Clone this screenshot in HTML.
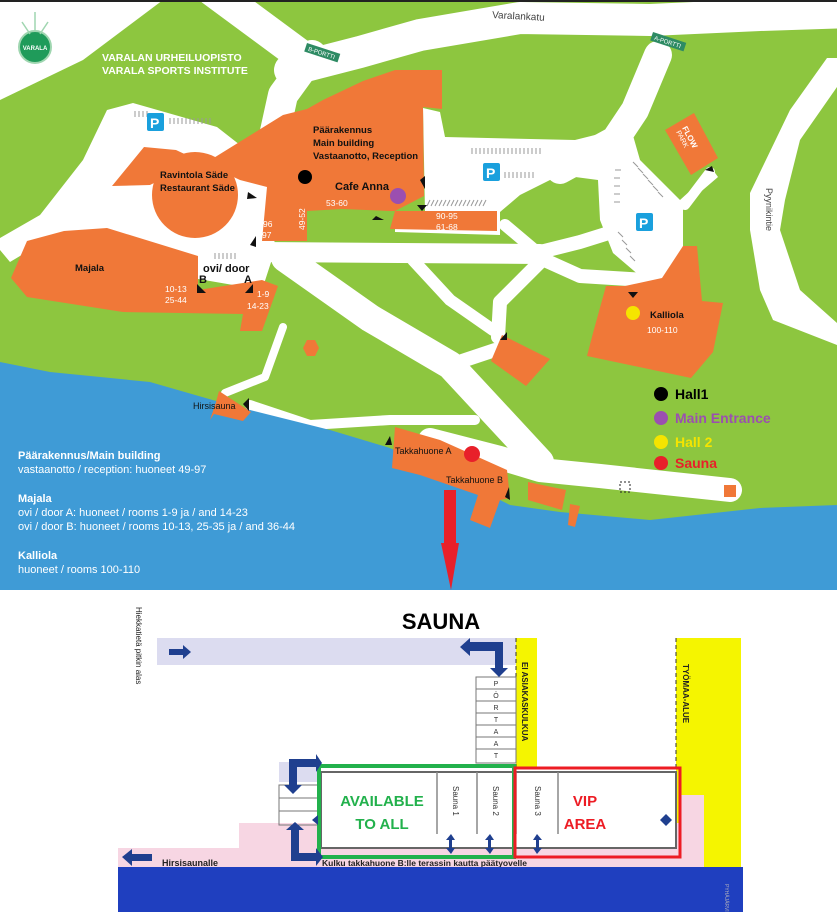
<!DOCTYPE html>
<html><head><meta charset="utf-8"><style>
html,body{margin:0;padding:0;background:#fff}
svg{display:block}
text{font-family:"Liberation Sans",sans-serif}
</style></head><body>
<svg width="837" height="919" viewBox="0 0 837 919" xmlns="http://www.w3.org/2000/svg">
<rect x="0" y="0" width="837" height="590" fill="#8dc63f"/>
<!-- white areas -->
<g fill="#fff">
<polygon points="0,0 163,0 83,60 0,100"/>
<polygon points="107,110 133,103 217,127 240,145 268,140 275,250 262,290 30,250 10,262 0,250 0,238 40,215 83,160"/>
<polygon points="827,58 837,58 837,87 800,140 785,200 780,230 800,290 837,323 837,345 773,320 760,290 750,230 750,193 790,110"/>
<polygon points="423,108 440,112 445,137 575,140 615,130 630,125 640,160 680,200 713,170 718,177 683,207 683,247 685,280 647,282 613,253 600,220 598,180 560,175 520,195 500,212 425,212"/>
<polygon points="395,211 500,211 500,235 395,232"/>
</g>
<g fill="none" stroke="#fff" stroke-linecap="round" stroke-linejoin="round">
<polyline points="212,-10 300,55" stroke-width="32"/>
<polyline points="290,70 360,52 420,35 520,18 650,20 760,15 850,12" stroke-width="32"/>
<polyline points="312,55 283,95 272,145" stroke-width="30"/>
<polyline points="658,55 635,110 615,140 560,170" stroke-width="28"/>
<polyline points="262,252 540,254" stroke-width="20"/>
<polyline points="540,252 580,242 612,232" stroke-width="14"/>
<polyline points="540,258 580,276 645,280" stroke-width="14"/>
<polyline points="505,225 537,252" stroke-width="12"/>
<polyline points="540,262 500,302 498,337" stroke-width="14"/>
<polyline points="413,260 450,300 493,330" stroke-width="12"/>
<polyline points="495,350 447,366" stroke-width="14"/>
<polyline points="285,258 370,318 450,365 540,462" stroke-width="28"/>
<polyline points="430,440 500,458 540,470 600,476 730,490" stroke-width="24"/>
<polyline points="283,327 265,377 225,393" stroke-width="8"/>
<polyline points="250,405 310,425 390,420 475,420" stroke-width="10"/>
<polyline points="710,172 685,205" stroke-width="10"/>
</g>
<!-- water -->
<polygon fill="#3f9bd6" points="0,362 50,372 150,382 230,405 330,430 390,448 470,485 510,505 560,512 650,520 760,508 837,505 837,590 0,590"/>
<rect x="0" y="0" width="837" height="2" fill="#222"/>
<!-- parking hatch -->
<g stroke="#999" stroke-width="1">
<path d="M135 111v6M139 111v6M143 111v6M147 111v6M170 118v6M174 118v6M178 118v6M182 118v6M186 118v6M190 118v6M194 118v6M198 118v6M202 118v6M206 118v6M210 118v6"/>
<path d="M472 148v6M476 148v6M480 148v6M484 148v6M488 148v6M492 148v6M496 148v6M500 148v6M504 148v6M508 148v6M512 148v6M516 148v6M520 148v6M524 148v6M528 148v6M532 148v6M536 148v6M540 148v6"/>
<path d="M505 172v6M509 172v6M513 172v6M517 172v6M521 172v6M525 172v6M529 172v6M533 172v6"/>
<path d="M430 200l-3 6M434 200l-3 6M438 200l-3 6M442 200l-3 6M446 200l-3 6M450 200l-3 6M454 200l-3 6M458 200l-3 6M462 200l-3 6M466 200l-3 6M470 200l-3 6M474 200l-3 6M478 200l-3 6M482 200l-3 6M486 200l-3 6"/>
<path d="M633 162l5 5M638 168l5 5M643 174l5 5M648 180l5 5M653 186l5 5M658 192l5 5M615 170h6M614 178h6M614 186h6M614 194h6M614 202h6M618 232l5 5M622 240l5 5M626 248l5 5M630 256l5 5"/>
<path d="M130 295v6M134 295v6M138 295v6M142 295v6M215 253v6M219 253v6M223 253v6M227 253v6M231 253v6M235 253v6"/>
</g>
<!-- buildings -->
<g fill="#f07838">
<polygon points="283,115 307,109 323,100 363,81 395,70 442,70 442,109 423,107 424,196 395,211 390,229 497,231 497,211 390,211 342,209 307,211 307,241 262,241 267,187 240,180 176,150 144,147 112,186 150,185 160,180 170,185"/>
<circle cx="195" cy="195" r="43"/>
<polygon points="27,241 64,231 107,228 198,256 198,290 262,280 278,286 262,331 240,331 243,314 123,312 27,297 11,278"/>
<polygon points="606,286 625,286 662,278 683,246 697,246 702,301 723,303 713,352 691,378 587,356 593,333"/>
<polygon points="502,335 550,359 526,386 491,361"/>
<polygon points="665,130 694,113 718,158 691,175"/>
<polygon points="307,340 315,340 319,348 315,356 307,356 303,348"/>
<polygon points="219,391 251,412 243,421 214,414 210,420 216,402"/>
<polygon points="395,427 440,440 507,470 510,498 500,500 490,528 470,520 478,495 420,475 392,468"/>
<polygon points="528,482 566,490 562,510 528,500"/>
<polygon points="570,504 580,506 575,527 568,525"/>
<rect x="724" y="485" width="12" height="12"/>
</g>
<text x="0" y="0" font-size="8" fill="#fff" font-weight="bold" transform="translate(682,128) rotate(62)">FLOW</text>
<text x="0" y="0" font-size="7" fill="#fff" transform="translate(676,132) rotate(62)">PARK</text>
<g font-size="14" font-weight="bold" fill="#fff">
<rect x="147" y="113" width="17" height="18" rx="2" fill="#1aa0dd"/><text x="150" y="128">P</text>
<rect x="483" y="163" width="17" height="18" rx="2" fill="#1aa0dd"/><text x="486" y="178">P</text>
<rect x="636" y="213" width="17" height="18" rx="2" fill="#1aa0dd"/><text x="639" y="228">P</text>
</g>
<g transform="translate(307,43) rotate(18)"><rect width="35" height="9" fill="#2e8b64"/><text x="3" y="7" font-size="6" fill="#fff">B-PORTTI</text></g>
<g transform="translate(653,32) rotate(18)"><rect width="35" height="9" fill="#2e8b64"/><text x="3" y="7" font-size="6" fill="#fff">A-PORTTI</text></g>
<circle cx="35" cy="47" r="16" fill="#1f9b5a" stroke="#9fd6b0" stroke-width="2"/>
<path d="M35 12v20M22 22l8 12M48 22l-8 12" stroke="#9fd6b0" stroke-width="1.5"/>
<text x="35" y="50" font-size="6" fill="#fff" text-anchor="middle" font-weight="bold">VARALA</text>
<g fill="#111">
<polygon points="248,192 257,198 247,199"/><polygon points="250,245 256,236 256,247"/>
<polygon points="197,284 206,293 197,293"/><polygon points="245,293 253,284 253,293"/>
<polygon points="420,180 425,176 425,189"/><polygon points="417,205 427,205 422,211"/>
<polygon points="376,216 384,220 372,220"/><polygon points="628,292 638,292 633,298"/>
<polygon points="705,170 712,166 714,172"/><polygon points="500,340 507,332 507,340"/>
<polygon points="243,404 249,398 249,411"/><polygon points="385,445 390,436 392,445"/>
<polygon points="505,497 509,487 510,500"/>
</g>
<circle cx="305" cy="177" r="7" fill="#000"/>
<circle cx="398" cy="196" r="8" fill="#9b4fb0"/>
<circle cx="633" cy="313" r="7" fill="#f5e400"/>
<circle cx="472" cy="454" r="8" fill="#e8202a"/>
<g font-size="10.5" font-weight="bold" fill="#fff">
<text x="102" y="61">VARALAN URHEILUOPISTO</text>
<text x="102" y="74">VARALA SPORTS INSTITUTE</text>
</g>
<text x="492" y="18" font-size="10" fill="#444" transform="rotate(3 492 18)">Varalankatu</text>
<text x="766" y="188" font-size="9" fill="#444" transform="rotate(90 766 188)">Pyynikintie</text>
<g font-size="9.5" fill="#111" font-weight="bold">
<text x="313" y="133">Päärakennus</text>
<text x="313" y="146">Main building</text>
<text x="313" y="159">Vastaanotto, Reception</text>
<text x="160" y="178">Ravintola Säde</text>
<text x="160" y="191">Restaurant Säde</text>
<text x="75" y="271">Majala</text>
<text x="650" y="318">Kalliola</text>
<text x="335" y="190" font-size="11">Cafe Anna</text>
<text x="203" y="272" font-size="11">ovi/ door</text>
<text x="199" y="283" font-size="11">B</text><text x="244" y="283" font-size="11">A</text>
</g>
<g font-size="9" fill="#111">
<text x="193" y="409">Hirsisauna</text>
<text x="395" y="454">Takkahuone A</text>
<text x="446" y="483">Takkahuone B</text>
</g>
<g font-size="8.5" fill="#fff">
<text x="326" y="206">53-60</text>
<text x="436" y="219">90-95</text><text x="436" y="230">61-68</text>
<text x="263" y="227">96</text><text x="262" y="238">97</text>
<text x="165" y="292">10-13</text><text x="165" y="303">25-44</text>
<text x="257" y="297">1-9</text><text x="247" y="309">14-23</text>
<text x="647" y="333">100-110</text>
<text x="305" y="230" transform="rotate(-90 305 230)">49-52</text>
</g>
<g fill="none" stroke="#222" stroke-width="1"><rect x="620" y="482" width="10" height="10" stroke-dasharray="2,2"/></g>
<circle cx="661" cy="394" r="7" fill="#000"/><text x="675" y="399" font-size="14" font-weight="bold" fill="#000">Hall1</text>
<circle cx="661" cy="418" r="7" fill="#9b4fb0"/><text x="675" y="423" font-size="14" font-weight="bold" fill="#9b4fb0">Main Entrance</text>
<circle cx="661" cy="442" r="7" fill="#f5e400"/><text x="675" y="447" font-size="14" font-weight="bold" fill="#f5e400">Hall 2</text>
<circle cx="661" cy="463" r="7" fill="#e8202a"/><text x="675" y="468" font-size="14" font-weight="bold" fill="#e8202a">Sauna</text>
<g fill="#fff" font-size="11">
<text x="18" y="459" font-weight="bold">Päärakennus/Main building</text>
<text x="18" y="473">vastaanotto / reception: huoneet 49-97</text>
<text x="18" y="502" font-weight="bold">Majala</text>
<text x="18" y="516">ovi / door A: huoneet / rooms 1-9 ja / and 14-23</text>
<text x="18" y="530">ovi / door B: huoneet / rooms 10-13, 25-35 ja / and 36-44</text>
<text x="18" y="559" font-weight="bold">Kalliola</text>
<text x="18" y="573">huoneet / rooms 100-110</text>
</g>
<rect x="444" y="490" width="12" height="55" fill="#e8202a"/>
<polygon points="441,543 459,543 451,590" fill="#e8202a"/>

<!-- SAUNA PLAN -->
<text x="441" y="629" font-size="22" font-weight="bold" text-anchor="middle" fill="#000">SAUNA</text>
<rect x="157" y="638" width="359" height="27" fill="#dcdcf0"/>
<rect x="516" y="638" width="21" height="129" fill="#f5f500"/>
<rect x="676" y="638" width="65" height="229" fill="#f5f500"/>
<path d="M516 638v130M676 638v130" stroke="#333" stroke-width="1" stroke-dasharray="4,3"/>
<text x="136" y="607" font-size="8" fill="#222" transform="rotate(90 136 607)">Hiekkatietä pitkin alas</text>
<text x="522" y="662" font-size="8" font-weight="bold" fill="#222" transform="rotate(90 522 662)">EI ASIAKASKULKUA</text>
<text x="683" y="664" font-size="8" font-weight="bold" fill="#222" transform="rotate(90 683 664)">TYÖMAA-ALUE</text>
<polygon fill="#f7d6e3" points="239,823 680,823 680,795 704,795 704,867 118,867 118,848 239,848"/>
<rect x="279" y="762" width="40" height="20" fill="#dcdcf0"/>
<g fill="none" stroke="#777" stroke-width="1">
<rect x="476" y="677" width="40" height="86"/>
<path d="M476 689h40M476 701h40M476 713h40M476 725h40M476 737h40M476 749h40"/>
<rect x="279" y="785" width="40" height="40"/><path d="M279 798h40M279 811h40"/>
</g>
<g font-size="7" fill="#333" text-anchor="middle">
<text x="496" y="686">P</text><text x="496" y="698">Ö</text><text x="496" y="710">R</text><text x="496" y="722">T</text><text x="496" y="734">A</text><text x="496" y="746">A</text><text x="496" y="758">T</text>
</g>
<rect x="321" y="772" width="355" height="76" fill="#fff" stroke="#666" stroke-width="2"/>
<path d="M437 772v62M477 772v62M516 772v62M558 772v62" stroke="#888" stroke-width="1.5"/>
<rect x="319" y="766" width="195" height="91" fill="none" stroke="#22b14c" stroke-width="4"/>
<rect x="515" y="768" width="165" height="89" fill="none" stroke="#ed1c24" stroke-width="3"/>
<g font-size="15" font-weight="bold" text-anchor="middle">
<text x="382" y="806" fill="#22b14c">AVAILABLE</text>
<text x="382" y="829" fill="#22b14c">TO ALL</text>
<text x="585" y="806" fill="#ed1c24">VIP</text>
<text x="585" y="829" fill="#ed1c24">AREA</text>
</g>
<g font-size="8" fill="#333">
<text x="453" y="786" transform="rotate(90 453 786)">Sauna 1</text>
<text x="493" y="786" transform="rotate(90 493 786)">Sauna 2</text>
<text x="535" y="786" transform="rotate(90 535 786)">Sauna 3</text>
</g>
<g fill="#1f3f8f">
<rect x="169" y="649" width="14" height="6"/><polygon points="183,645 191,652 183,659"/>
<polygon points="470,642 503,642 503,668 508,668 499,677 490,668 495,668 495,651 470,651 470,656 460,647 470,638"/>
<polygon points="316,767 297,767 297,785 302,785 293,794 284,785 289,785 289,759 316,759 316,754 322,763 316,772"/>
<polygon points="286,830 295,822 304,830 299,830 299,853 316,853 316,848 323,857 316,866 316,861 291,861 291,830"/>
<rect x="132" y="854" width="20" height="7"/><polygon points="132,849 122,857 132,866"/>
<rect x="449" y="838" width="3" height="12"/><polygon points="446,840 451,834 455,840"/><polygon points="446,848 451,854 455,848"/>
<rect x="488" y="838" width="3" height="12"/><polygon points="485,840 490,834 494,840"/><polygon points="485,848 490,854 494,848"/>
<rect x="536" y="838" width="3" height="12"/><polygon points="533,840 537,834 542,840"/><polygon points="533,848 537,854 542,848"/>
<polygon points="660,820 666,814 672,820 666,826"/>
<polygon points="312,820 318,815 318,825"/>
</g>
<text x="162" y="866" font-size="9" font-weight="bold" fill="#222">Hirsisaunalle</text>
<text x="322" y="866" font-size="8.5" font-weight="bold" fill="#222">Kulku takkahuone B:lle terassin kautta päätyovelle</text>
<rect x="118" y="867" width="625" height="45" fill="#1f3fbf"/>
<text x="725" y="884" fill="#aab" font-size="5" transform="rotate(90 725 884)">PYHÄJÄRVI</text>
</svg>
</body></html>
